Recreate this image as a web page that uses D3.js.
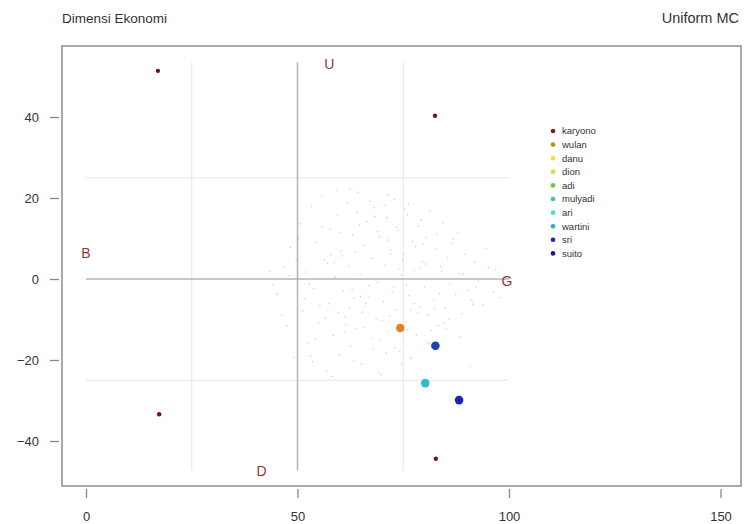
<!DOCTYPE html>
<html>
<head>
<meta charset="utf-8">
<script src="https://cdn.jsdelivr.net/npm/d3@7"></script>
<style>
  body { margin: 0; background: #fff; }
  text { font-family: "Liberation Sans", Arial, sans-serif; }
</style>
</head>
<body>
<div id="chart-area"></div>
<script>
// tick labels
const xTicks = [0, 50, 100, 150];
const yTicks = [-40, -20, 0, 20, 40];

// legend names
const names = ["karyono", "wulan", "danu", "dion", "adi", "mulyadi", "ari", "wartini", "sri", "suito"];
const nameColors = ["#8b1a1a", "#b8900b", "#e6e62a", "#b4ef3c", "#5fd23a", "#3ccf78", "#47e0c4", "#22b4b0", "#1e1ec8", "#14148c"];

// corner markers (x, y)
const anchorX = [17, 82.5, 17.3, 82.7];
const anchorY = [51.4, 40.3, -33.4, -44.4];

// highlighted persons
const pickNames = ["wulan", "sri", "wartini", "suito"];
const pickX = [74.3, 82.6, 80.2, 88.2];
const pickY = [-12.1, -16.5, -25.7, -29.9];
const pickColors = ["#e0832a", "#1f45b0", "#35b9d2", "#1f22b4"];

// quadrant letters
const quadLabels = ["U", "B", "G", "D"];
const quadX = [57.5, 0, 99.5, 41.5];
const quadY = [53, 6.5, -0.5, -47.5];

// monte carlo cloud
const cloudX = [45.2, 46.8, 47.5, 48.3, 49.1, 50.6, 51.2, 51.9, 52.4, 53.3, 53.8, 54.5, 55.1, 55.7, 56.3, 56.9, 57.4, 57.8, 58.5, 58.9,
  59.4, 59.9, 60.3, 60.8, 61.2, 61.7, 62.1, 62.6, 63.0, 63.4, 63.9, 64.3, 64.8, 65.1, 65.6, 66.0, 66.4, 66.9, 67.3, 67.7,
  68.1, 68.6, 69.0, 69.4, 69.8, 70.3, 70.7, 71.1, 71.6, 72.0, 72.4, 72.9, 73.3, 73.7, 74.2, 74.6, 75.1, 75.5, 75.9, 76.4,
  76.8, 77.2, 77.7, 78.1, 78.6, 79.0, 79.5, 80.0, 80.4, 80.9, 81.3, 81.8, 82.2, 82.7, 83.3, 83.8, 84.4, 84.9, 85.5, 86.1,
  86.8, 87.4, 88.1, 88.8, 89.5, 90.3, 91.0, 91.9, 92.8, 93.9, 95.1, 96.4, 97.8, 44.1, 49.7, 55.3, 60.1, 65.4, 70.9, 76.2,
  52.8, 57.1, 61.5, 63.7, 66.7, 68.9, 71.8, 73.9, 77.5, 79.8, 81.6, 84.1, 58.2, 62.9, 67.1, 69.6, 72.7, 75.3, 78.4, 82.9,
  54.2, 59.2, 64.6, 70.1, 74.9, 80.6, 86.5, 48.8, 56.6, 63.2, 68.3, 73.1, 77.9, 85.2, 90.8, 60.6, 66.2, 71.4, 76.7, 83.5,
  46.3, 50.2, 53.6, 57.9, 61.1, 64.1, 67.9, 71.3, 74.5, 78.8, 81.1, 85.8, 89.1, 92.3, 94.6, 47.9, 51.6, 55.9, 59.7, 62.4,
  65.8, 69.2, 72.2, 75.7, 79.3, 82.4, 87.8, 91.4, 43.5, 53.1, 58.7, 64.9, 70.5, 76.0, 80.2, 84.7, 88.5, 96.9, 62.3, 73.5];
const cloudY = [-3.8, 2.9, -11.6, 7.8, -19.4, 13.6, -7.9, 1.7, -15.8, 17.9, -2.3, 9.1, -10.8, 20.6, 4.7, -22.8, -6.1, 12.3, -13.9, 0.4,
  15.8, -18.7, 6.9, -2.9, -9.3, 18.8, 3.2, -16.6, 10.9, -4.7, -12.2, 21.4, 1.1, -20.9, 8.3, -6.8, 14.2, -1.6, -14.7, 5.1,
  17.6, -9.8, -0.8, 10.4, -23.6, -5.6, 3.4, 15.1, -12.9, 7.2, -3.1, 19.7, -7.6, 12.0, -17.8, 0.9, 6.2, -10.7, 15.9, -4.1,
  -19.6, 9.3, 2.1, -13.8, 13.1, -6.9, 4.3, -1.9, 10.2, -8.8, 16.7, -0.2, -5.3, 7.4, -11.6, 3.1, 13.9, -7.2, 5.2, -1.1,
  9.8, -3.8, 1.4, -8.6, 6.1, -2.7, -5.1, 4.2, -0.6, -6.4, 2.8, -3.3, -4.6, -1.4, 4.9, -6.6, 11.5, -8.2, -18.3, 18.6,
  -1.2, 3.9, -11.3, 6.6, -4.4, 11.7, -9.1, 2.4, -6.1, 8.7, -12.7, 1.8, -24.1, -2.6, 19.2, -15.2, -1.9, 17.3, -8.4, 11.1,
  -14.8, 21.9, 13.3, -10.3, 4.6, -15.7, 8.9, -0.1, -9.6, -20.2, 15.4, -17.1, 8.1, -12.4, -21.6, 5.7, -5.9, 9.6, -7.7, -3.6,
  -8.9, 9.9, -20.4, 5.9, -13.2, 16.4, -17.3, 20.8, -21.1, 2.6, -15.9, -9.9, 1.2, -2.1, 7.6, 0.8, -4.9, 12.9, -8.3, 22.3,
  -11.9, -23.1, 6.3, -1.4, 14.6, -7.4, 11.4, -6.2, 1.9, -19.1, 4.1, -4.3, 18.2, -12.5, 3.7, -10.9, -14.3, 2.3, -7.1, 12.8];

const chart = { width: 745, height: 524 };
const box = { left: 62, right: 741, top: 46, bottom: 486 };

const x = d3.scaleLinear().domain([0, 150]).range([86, 720.5]);
const y = d3.scaleLinear().domain([-40, 40]).range([441, 117]);

const svg = d3.select("#chart-area")
  .append("svg")
  .attr("width", chart.width)
  .attr("height", chart.height);

// titles
svg.append("text").text("Dimensi Ekonomi")
  .attr("x", 62).attr("y", 23)
  .attr("font-size", 13.5).attr("fill", "#333");
svg.append("text").text("Uniform MC")
  .attr("x", 739).attr("y", 23)
  .attr("text-anchor", "end")
  .attr("font-size", 14.5).attr("fill", "#333");

// guide lines
const light = "#e6e6e6";
[25, 75].forEach(v => {
  svg.append("line")
    .attr("x1", x(v)).attr("x2", x(v))
    .attr("y1", y(53.5)).attr("y2", y(-47.3))
    .attr("stroke", light).attr("stroke-width", 1);
});
[25, -25].forEach(v => {
  svg.append("line")
    .attr("x1", x(0)).attr("x2", x(100))
    .attr("y1", y(v)).attr("y2", y(v))
    .attr("stroke", light).attr("stroke-width", 1);
});

// cloud
svg.append("g").selectAll("circle")
  .data(cloudX.map((v, i) => [v, cloudY[i]]))
  .enter().append("circle")
  .attr("cx", d => x(d[0]))
  .attr("cy", d => y(d[1]))
  .attr("r", 0.8)
  .attr("fill", "#d0d0d0");

// main cross
svg.append("line")
  .attr("x1", x(50)).attr("x2", x(50))
  .attr("y1", y(53.5)).attr("y2", y(-47.3))
  .attr("stroke", "#b4b4b4").attr("stroke-width", 1.5);
svg.append("line")
  .attr("x1", x(0)).attr("x2", x(100))
  .attr("y1", y(0)).attr("y2", y(0))
  .attr("stroke", "#b4b4b4").attr("stroke-width", 1.5);

// quadrant letters
svg.append("g").selectAll("text")
  .data(quadLabels)
  .enter().append("text")
  .text(d => d)
  .attr("x", (d, i) => x(quadX[i]))
  .attr("y", (d, i) => y(quadY[i]))
  .attr("dy", "0.35em")
  .attr("text-anchor", "middle")
  .attr("font-size", 14)
  .attr("fill", "#8b3a3a");

// anchors
svg.append("g").selectAll("circle")
  .data(anchorX)
  .enter().append("circle")
  .attr("cx", d => x(d))
  .attr("cy", (d, i) => y(anchorY[i]))
  .attr("r", 2.2)
  .attr("fill", "#7a1010");

// persons
svg.append("g").selectAll("circle")
  .data(pickNames)
  .enter().append("circle")
  .attr("cx", (d, i) => x(pickX[i]))
  .attr("cy", (d, i) => y(pickY[i]))
  .attr("r", 4.3)
  .attr("fill", (d, i) => pickColors[i]);

// box
svg.append("rect")
  .attr("x", box.left).attr("y", box.top)
  .attr("width", box.right - box.left)
  .attr("height", box.bottom - box.top)
  .attr("fill", "none")
  .attr("stroke", "#a0a0a0").attr("stroke-width", 1.8);

// axes
const xAxis = svg.append("g")
  .attr("transform", `translate(0, ${box.bottom + 3})`)
  .call(d3.axisBottom(x).tickValues(xTicks).tickSize(9).tickPadding(14));
const yAxis = svg.append("g")
  .attr("transform", `translate(${box.left - 3}, 0)`)
  .call(d3.axisLeft(y).tickValues(yTicks).tickSize(9).tickPadding(11));

[xAxis, yAxis].forEach(a => {
  a.select(".domain").remove();
  a.selectAll("line").attr("stroke", "#888").attr("stroke-width", 1.3);
  a.selectAll("text")
    .attr("font-size", 13)
    .attr("fill", "#333")
    .attr("font-family", "Liberation Sans, Arial, sans-serif");
});

// legend
const legend = svg.append("g").attr("transform", "translate(553, 131)");
const row = legend.selectAll("g")
  .data(names)
  .enter().append("g")
  .attr("transform", (d, i) => `translate(0, ${i * 13.6})`);
row.append("circle")
  .attr("r", 2.3)
  .attr("fill", (d, i) => nameColors[i]);
row.append("text")
  .text(d => d)
  .attr("x", 9)
  .attr("dy", "0.35em")
  .attr("font-size", 9.5)
  .attr("fill", "#333");
</script>
</body>
</html>
